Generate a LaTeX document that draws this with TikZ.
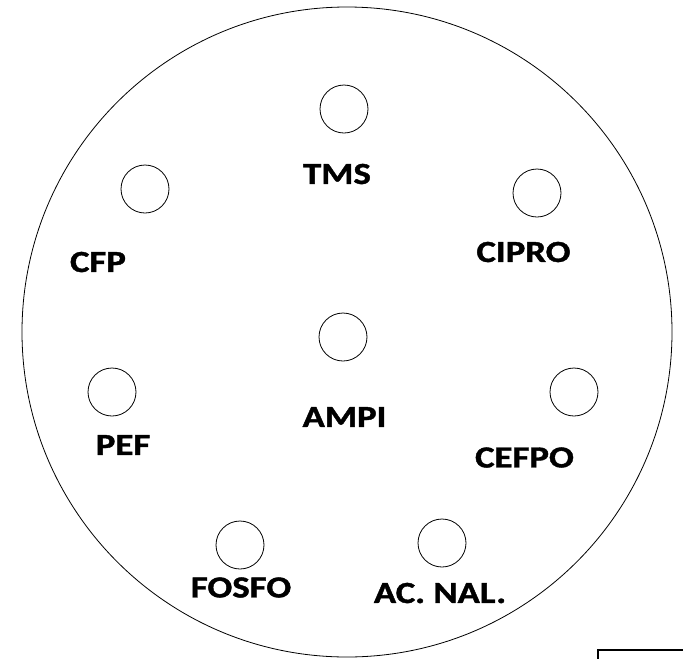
\documentclass[tikz,border=0pt]{standalone}
\usepackage{fontspec}
\usepackage{graphicx}
\setmainfont{Carlito}[BoldFeatures={FakeBold=1.2}]
\newcommand{\druglabel}[1]{\scalebox{1.2}[1]{#1}}
\tikzset{every picture/.style={line width=0.75pt}}

\begin{document}
\begin{tikzpicture}[x=0.75pt,y=0.75pt,yscale=-1,xscale=1,
    disk/.style={draw, circle, line width=0.6, minimum size=36pt, inner sep=0pt},
    drug/.style={inner sep=0.75pt, font=\fontsize{23}{26}\selectfont\bfseries}]
                      \useasboundingbox (0,0) rectangle (683,658);

                      %Shape: Circle [id:plate] 
                      \draw [line width=0.6]  (347,332) circle (325) ;
                      %Shape: Corner [id:frame] 
                      \draw [line width=1.5]  (684,649.5) -- (598,649.5) -- (598,659) ;

                      %Shape: Circle [id:disks] 
                      \node [disk] (tms) at (344,109) {};
                      \node [disk] (cfp) at (145,189) {};
                      \node [disk] (cipro) at (537,193) {};
                      \node [disk] (ampi) at (343,337) {};
                      \node [disk] (pef) at (112,392) {};
                      \node [disk] (cefpo) at (574,392) {};
                      \node [disk] (fosfo) at (240,545) {};
                      \node [disk] (acnal) at (442,543) {};

                      % Text Node
                      \node [drug] (tmstext) at (337,174) {\druglabel{TMS}};
                      % Text Node
                      \node [drug] (cfptext) at (98,262) {\druglabel{CFP}};
                      % Text Node
                      \node [drug] (ciprotext) at (523.5,252) {\druglabel{CIPRO}};
                      % Text Node
                      \node [drug] (ampitext) at (344.5,417) {\druglabel{AMPI}};
                      % Text Node
                      \node [drug] (peftext) at (123,445) {\druglabel{PEF}};
                      % Text Node
                      \node [drug] (cefpotext) at (524.5,457.5) {\druglabel{CEFPO}};
                      % Text Node
                      \node [drug] (fosfotext) at (241,587.5) {\druglabel{FOSFO}};
                      % Text Node
                      \node [drug] (acnaltext) at (440,593) {\druglabel{AC. NAL.}};

                  \end{tikzpicture}
\end{document}
